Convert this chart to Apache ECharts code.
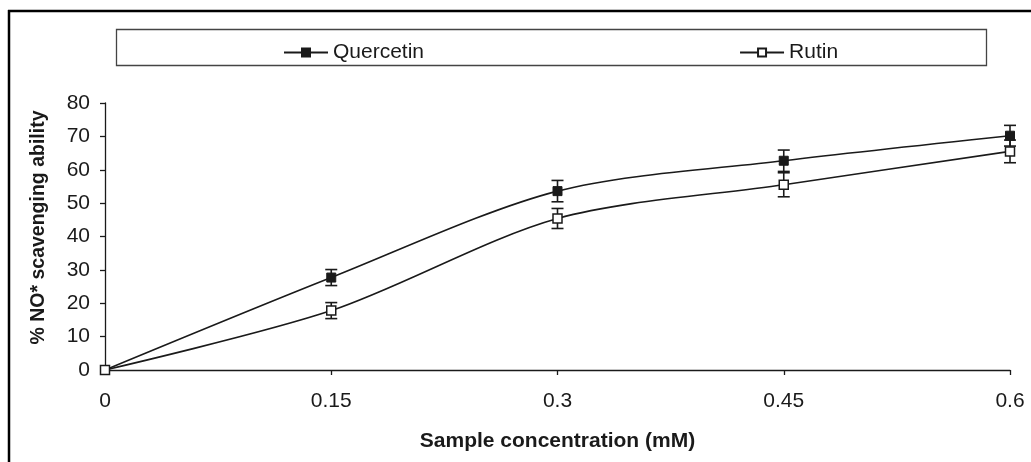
<!DOCTYPE html>
<html>
<head>
<meta charset="utf-8">
<script src="https://cdn.jsdelivr.net/npm/echarts@6/dist/echarts.min.js"></script>
<style>
html,body{margin:0;padding:0;background:#fff;}
#chart{width:1031px;height:462px;}
</style>
</head>
<body>
<div id="chart"></div>
<script>
var concentrations = [0, 0.15, 0.3, 0.45, 0.6];
var quercetin = [0, 27.7, 53.6, 62.7, 70.2];
var quercetinErr = [0, 2.4, 3.2, 3.2, 3.1];
var rutin = [0, 17.8, 45.4, 55.5, 65.5];
var rutinErr = [0, 2.4, 3.0, 3.6, 3.4];
var xTicks = [0, 0.15, 0.3, 0.45, 0.6];

var FONT = '"Liberation Sans", Arial, Helvetica, sans-serif';
var INK = '#1a1a1a';

function pairs(xs, ys) { return xs.map(function (x, i) { return [x, ys[i]]; }); }
function errData(xs, ys, es) {
  var out = [];
  xs.forEach(function (x, i) { if (es[i] > 0) out.push([x, ys[i] - es[i], ys[i] + es[i]]); });
  return out;
}
function errRender(params, api) {
  var x = api.value(0);
  var lo = api.coord([x, api.value(1)]);
  var hi = api.coord([x, api.value(2)]);
  var hw = 6;
  var st = { stroke: INK, lineWidth: 1.6 };
  return {
    type: 'group',
    children: [
      { type: 'line', shape: { x1: lo[0], y1: lo[1], x2: hi[0], y2: hi[1] }, style: st },
      { type: 'line', shape: { x1: lo[0] - hw, y1: lo[1], x2: lo[0] + hw, y2: lo[1] }, style: st },
      { type: 'line', shape: { x1: hi[0] - hw, y1: hi[1], x2: hi[0] + hw, y2: hi[1] }, style: st }
    ]
  };
}

var chart = echarts.init(document.getElementById('chart'), null, { renderer: 'canvas' });
chart.setOption({
  animation: false,
  backgroundColor: '#fff',
  textStyle: { fontFamily: FONT },
  graphic: [
    { type: 'line', shape: { x1: 8, y1: 11, x2: 1031, y2: 11 }, style: { stroke: '#000', lineWidth: 2.5 } },
    { type: 'line', shape: { x1: 9, y1: 10, x2: 9, y2: 462 }, style: { stroke: '#000', lineWidth: 2.5 } },
    { type: 'rect', shape: { x: 116.5, y: 29.5, width: 870, height: 36 }, style: { fill: 'none', stroke: '#444', lineWidth: 1.3 } }
  ],
  legend: {
    left: 278,
    top: 37,
    itemWidth: 44,
    itemHeight: 10,
    itemGap: 315,
    data: ['Quercetin', 'Rutin'],
    textStyle: { fontFamily: FONT, fontSize: 21, color: INK }
  },
  grid: { left: 105, right: 21, top: 103, bottom: 92, containLabel: false },
  xAxis: {
    type: 'value',
    min: 0, max: 0.6, interval: 0.15,
    name: 'Sample concentration (mM)',
    nameLocation: 'middle',
    nameGap: 61,
    nameTextStyle: { fontFamily: FONT, fontSize: 21, fontWeight: 'bold', color: INK },
    axisLine: { show: true, lineStyle: { color: INK, width: 1.3 } },
    axisTick: { show: true, inside: false, length: 5, lineStyle: { color: INK, width: 1.3 } },
    axisLabel: {
      margin: 21, fontSize: 21, color: INK, fontFamily: FONT,
      formatter: function (v) {
        var t = xTicks.find(function (t) { return Math.abs(t - v) < 1e-9; });
        return String(t === undefined ? v : t);
      }
    },
    splitLine: { show: false }
  },
  yAxis: {
    type: 'value',
    min: 0, max: 80, interval: 10,
    name: '% NO* scavenging ability',
    nameLocation: 'middle',
    nameGap: 56,
    nameTextStyle: { fontFamily: FONT, fontSize: 19.5, fontWeight: 'bold', color: INK, padding: [0, 0, 0, 18] },
    axisLine: { show: true, lineStyle: { color: INK, width: 1.3 } },
    axisTick: { show: true, inside: false, length: 5, lineStyle: { color: INK, width: 1.3 } },
    axisLabel: { margin: 15, fontSize: 21, color: INK, fontFamily: FONT },
    splitLine: { show: false }
  },
  series: [
    {
      name: 'Quercetin-err', type: 'custom', renderItem: errRender,
      data: errData(concentrations, quercetin, quercetinErr), z: 1, silent: true
    },
    {
      name: 'Rutin-err', type: 'custom', renderItem: errRender,
      data: errData(concentrations, rutin, rutinErr), z: 1, silent: true
    },
    {
      name: 'Quercetin', type: 'line', smooth: 0.3,
      data: pairs(concentrations, quercetin),
      symbol: 'rect', symbolSize: 9, showAllSymbol: true,
      lineStyle: { color: INK, width: 1.6 },
      itemStyle: { color: INK, borderColor: INK, borderWidth: 1 },
      z: 3
    },
    {
      name: 'Rutin', type: 'line', smooth: 0.3,
      data: pairs(concentrations, rutin),
      symbol: 'rect', symbolSize: 9, showAllSymbol: true,
      lineStyle: { color: INK, width: 1.6 },
      itemStyle: { color: '#fff', borderColor: INK, borderWidth: 1.5 },
      z: 3
    }
  ]
});
</script>
</body>
</html>
